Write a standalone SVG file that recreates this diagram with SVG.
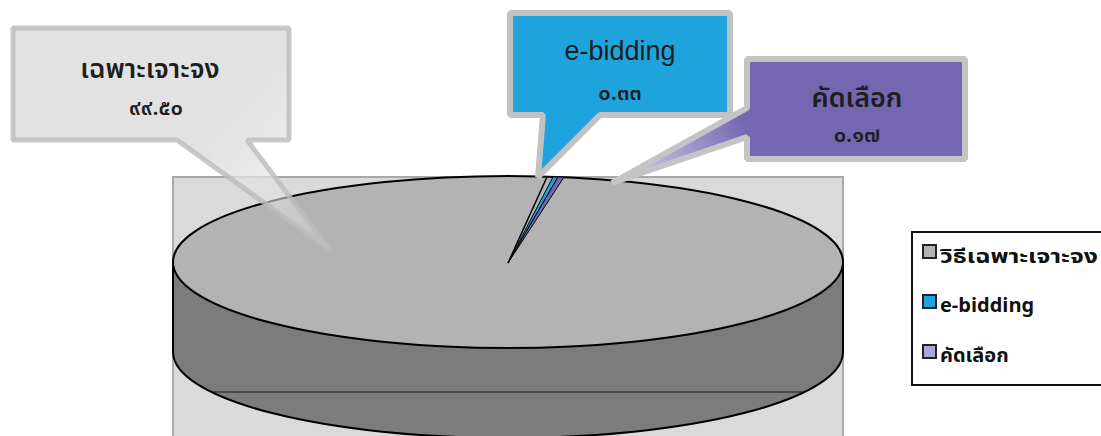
<svg xmlns="http://www.w3.org/2000/svg" width="1101" height="436" viewBox="0 0 1101 436">
<style>
.lbl{font-family:"Noto Sans Thai","Noto Sans","DejaVu Sans",sans-serif;fill:#1e1e1e;text-anchor:middle;font-weight:600}
.lat{font-family:"Liberation Sans","Noto Sans",sans-serif;fill:#1e1e1e;text-anchor:middle}
.leg{font-family:"Noto Sans Thai","Liberation Sans","Noto Sans",sans-serif;fill:#111;font-weight:bold;font-size:20px}
.edge{fill:none;stroke:#000;stroke-width:2}
.sw{stroke:#222;stroke-width:2}
</style>
<defs>
<linearGradient id="gp" gradientUnits="userSpaceOnUse" x1="210" y1="140" x2="330" y2="250">
<stop offset="0" stop-color="#e2e2e2"/>
<stop offset="1" stop-color="#e2e2e2" stop-opacity="0.25"/>
</linearGradient>
<linearGradient id="pp" gradientUnits="userSpaceOnUse" x1="745" y1="122" x2="612" y2="183">
<stop offset="0" stop-color="#7466b0"/>
<stop offset="1" stop-color="#8a80c0" stop-opacity="0.35"/>
</linearGradient>
<clipPath id="pie"><path d="M173,262 A335,86 0 0 1 843,262 V352 A335,86 0 0 1 173,352 Z"/></clipPath>
</defs>
<rect width="1101" height="436" fill="#ffffff"/>
<g id="plot-area">
<rect x="173" y="177" width="670" height="270" fill="#dadada" stroke="#a8a8a8" stroke-width="2"/>
</g>
<g id="pie-chart">
<path d="M173,262 V352 A335,86 0 0 0 843,352 V262 Z" fill="#7c7c7c"/>
<line x1="160" y1="392" x2="860" y2="392" stroke="#1a1a1a" stroke-width="1.2" clip-path="url(#pie)"/>
<path d="M173,262 V352 A335,86 0 0 0 843,352 V262" class="edge"/>
<ellipse cx="508" cy="262" rx="335" ry="86" fill="#b3b3b3" stroke="#000" stroke-width="2"/>
<polygon points="508,263 553,177 558,177" fill="#1ea3dc" stroke="#000" stroke-width="1"/>
<polygon points="508,263 558,177 564,177" fill="#7466b0" stroke="#000" stroke-width="1"/>
<line x1="508" y1="263" x2="547" y2="177" stroke="#000" stroke-width="1.5"/>
</g>
<g id="connectors">
</g>
<g id="callout-specific">
<path d="M13,28 H289 V140 H247 L330,250 L177,140 H13 Z" fill="url(#gp)" stroke="#bcbcbc" stroke-width="5" stroke-linejoin="bevel" stroke-opacity="0.8"/>
<text class="lbl" x="150" y="78" font-size="27">เฉพาะเจาะจง</text>
<text class="lbl" x="156" y="115" font-size="22">๙๙.๕๐</text>
</g>
<g id="callout-ebidding">
<path d="M510,13 H730 V115 H600 L538,177 L543,115 H510 Z" fill="#1ea3dc" stroke="#c2c2c2" stroke-width="6" stroke-linejoin="bevel"/>
<text class="lat" x="620" y="60" font-size="27">e-bidding</text>
<text class="lbl" x="620" y="100" font-size="22">๐.๓๓</text>
</g>
<g id="callout-selective">
<path d="M747,59 H965 V159 H747 V137 L612,183 L747,108 Z" fill="url(#pp)" stroke="#c4c4c4" stroke-width="6" stroke-linejoin="bevel"/>
<rect x="750" y="62" width="212" height="94" fill="#7466b0"/>
<text class="lbl" x="857" y="107" font-size="27">คัดเลือก</text>
<text class="lbl" x="857" y="142" font-size="22">๐.๑๗</text>
</g>
<g id="legend">
<rect x="912" y="232" width="200" height="153" fill="#ffffff" stroke="#111" stroke-width="2"/>
<rect x="923" y="245" width="13" height="13" fill="#b3b3b3" class="sw"/>
<text class="leg" x="940" y="263" textLength="158" lengthAdjust="spacingAndGlyphs">วิธีเฉพาะเจาะจง</text>
<rect x="923" y="295" width="13" height="13" fill="#1ea3dc" class="sw"/>
<text class="leg" x="940" y="312">e-bidding</text>
<rect x="923" y="345" width="13" height="13" fill="#ada6dc" class="sw"/>
<text class="leg" x="940" y="362">คัดเลือก</text>
</g>
</svg>
